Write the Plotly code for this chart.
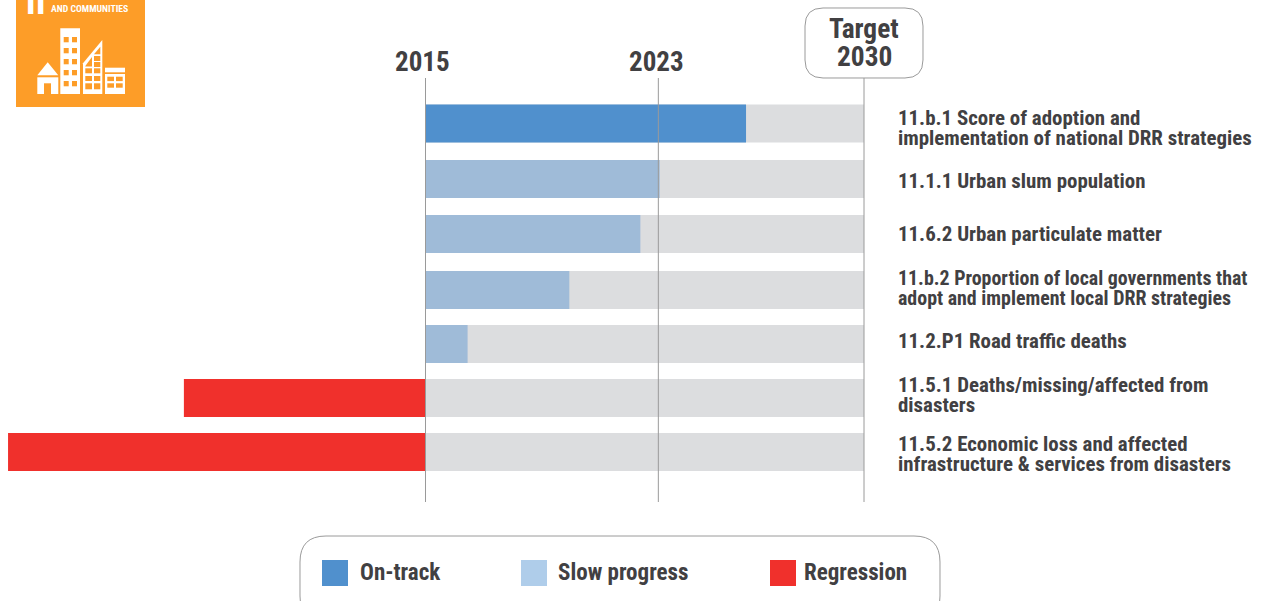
import plotly.graph_objects as go

# ---- data ----
indicators = ["11.b.1", "11.1.1", "11.6.2", "11.b.2", "11.2.P1", "11.5.1", "11.5.2"]
progress = [73.1, 53.4, 49.0, 32.8, 9.6, -55.1, -95.2]
status = ["On-track", "Slow", "Slow", "Slow", "Slow", "Regression", "Regression"]
target = [100, 100, 100, 100, 100, 100, 100]
label_lines = [
    ["11.b.1 Score of adoption and", "implementation of national DRR strategies"],
    ["11.1.1 Urban slum population"],
    ["11.6.2 Urban particulate matter"],
    ["11.b.2 Proportion of local governments that", "adopt and implement local DRR strategies"],
    ["11.2.P1 Road traffic deaths"],
    ["11.5.1 Deaths/missing/affected from", "disasters"],
    ["11.5.2 Economic loss and affected", "infrastructure & services from disasters"],
]
years = [2015, 2023, 2030]
year_progress = [0, 53.1, 100]
legend_names = ["On-track", "Slow progress", "Regression"]

# ---- style / layout ----
W, H = 1264, 601
FONT = "Roboto Condensed, Liberation Sans Narrow, Roboto"
TXT = "#414042"
LINE = "#9a9a9a"
ORANGE = "#FD9D28"
status_color = {"On-track": "#5090CD", "Slow": "#9FBBD8", "Regression": "#F0302C"}
legend_colors = ["#5090CD", "#AFCDEA", "#F0302C"]
X0, X_PER = 425.5, 4.385
ROW0, ROW_STEP, BAR_H = 123, 54.83, 38
row_nudge_px = [0.5, 1.2, 1.3, 2.5, 1.7, 0.8, 0]
label_size = [20.9, 20.9, 20.9, 19.9, 20.9, 20.9, 20.9]
bar_w = BAR_H / ROW_STEP
offsets = [-bar_w / 2 + n / ROW_STEP for n in row_nudge_px]


def px(x):
    return x / W


def py(y):
    return 1 - y / H


def rect(x0, y0, x1, y1, color, **kw):
    return dict(type="rect", xref="paper", yref="paper", x0=px(x0), x1=px(x1), y0=py(y0), y1=py(y1),
                fillcolor=color, line=dict(width=0), layer="above", **kw)


def poly(points, color):
    d = "M " + " L ".join(f"{px(a):.5f},{py(b):.5f}" for a, b in points) + " Z"
    return dict(type="path", xref="paper", yref="paper", path=d, fillcolor=color,
                line=dict(width=0), layer="above")


def round_box(x0, y0, x1, y1, r):
    pts = (f"M {px(x0+r):.5f},{py(y0):.5f} L {px(x1-r):.5f},{py(y0):.5f} "
           f"Q {px(x1):.5f},{py(y0):.5f} {px(x1):.5f},{py(y0+r):.5f} "
           f"L {px(x1):.5f},{py(y1-r):.5f} Q {px(x1):.5f},{py(y1):.5f} {px(x1-r):.5f},{py(y1):.5f} "
           f"L {px(x0+r):.5f},{py(y1):.5f} Q {px(x0):.5f},{py(y1):.5f} {px(x0):.5f},{py(y1-r):.5f} "
           f"L {px(x0):.5f},{py(y0+r):.5f} Q {px(x0):.5f},{py(y0):.5f} {px(x0+r):.5f},{py(y0):.5f} Z")
    return dict(type="path", xref="paper", yref="paper", path=pts, fillcolor="white",
                line=dict(color=LINE, width=1), layer="above")


def note(x, y, text, size, color=TXT, xanchor="left"):
    return dict(xref="paper", yref="paper", x=px(x), y=py(y), text=text, showarrow=False,
                xanchor=xanchor, yanchor="middle", xshift=0, borderpad=0,
                font=dict(family=FONT, size=size, color=color, weight=700))


fig = go.Figure()
fig.add_bar(y=indicators, x=target, orientation="h", width=bar_w, offset=offsets,
            marker=dict(color="#DCDDDF", line=dict(width=0)), showlegend=False, hoverinfo="skip")
fig.add_bar(y=indicators, x=progress, orientation="h", width=bar_w, offset=offsets,
            marker=dict(color=[status_color[s] for s in status], line=dict(width=0)), showlegend=False)

shapes = []
for v in year_progress:
    shapes.append(dict(type="line", xref="x", yref="paper", x0=v, x1=v, y0=py(78), y1=py(502),
                       line=dict(color=LINE, width=1), layer="above"))
shapes.append(round_box(805, 8, 923, 78, 18))
shapes.append(round_box(300, 536, 940, 622, 26))
for x, c in zip([322, 521, 770], legend_colors):
    shapes.append(rect(x, 560, x + 26, 586, c))

# SDG 11 icon
shapes.append(rect(16, -2, 145, 107, ORANGE))
W_ = "white"
shapes.append(poly([(37.3, 75.3), (47.7, 62.3), (58.3, 75.3)], W_))
shapes.append(rect(37.3, 77.3, 58.3, 94, W_))
shapes.append(rect(44, 83.3, 51, 94, ORANGE))
shapes.append(rect(60.3, 28.3, 80, 94, W_))
for yy in [37, 48, 59, 70, 81]:
    for xx in [63.7, 72]:
        shapes.append(rect(xx, yy, xx + 5, yy + 5.3, ORANGE))
shapes.append(poly([(83, 63.3), (102.3, 40), (102.3, 94), (83, 94)], W_))
for yy in [56, 62, 68.3, 76, 83.3]:
    shapes.append(rect(94, yy, 100.3, yy + (5 if yy < 83 else 6), ORANGE))
for yy in [68.3, 76, 83.3]:
    shapes.append(rect(85.3, yy, 92, yy + (5 if yy < 83 else 6), ORANGE))
shapes.append(poly([(94, 54.3), (100.3, 46.7), (100.3, 54.3)], ORANGE))
shapes.append(poly([(85.3, 66), (92, 57), (92, 66.6), (85.3, 66.6)], ORANGE))
shapes.append(rect(105, 67.7, 125, 72.3, W_))
shapes.append(rect(105, 74, 125, 94, W_))
for yy in [76.7, 83.3]:
    for xx in [107.3, 116]:
        shapes.append(rect(xx, yy, xx + 6.7, yy + 4.4, ORANGE))

anns = [note(29, 0.5, "1", 38, "white", "center"),
        note(39, 0.5, "1", 38, "white", "center"),
        note(50, 8.5, "AND COMMUNITIES", 9.7, "white")]
for v, yr, sh in zip(year_progress[:2], years[:2], [-3, -2]):
    anns.append(dict(xref="x", yref="paper", x=v, y=py(62), text=str(yr), showarrow=False,
                     xanchor="center", yanchor="middle", xshift=sh,
                     font=dict(family=FONT, size=27, color=TXT, weight=700)))
anns.append(note(864, 29, "Target", 27.4, TXT, "center"))
anns.append(note(864, 57, f"{years[2]}", 27.4, TXT, "center"))

row_y = [[118, 138], [181], [234], [278, 298], [341], [385, 405], [444, 464]]
for lines, ys, sz in zip(label_lines, row_y, label_size):
    for t, y_ in zip(lines, ys):
        anns.append(note(897, y_, t.replace("&", "&amp;"), sz))
for x, t in zip([358.5, 557, 803], legend_names):
    anns.append(note(x, 572, t, 23))

fig.update_layout(
    width=W, height=H, margin=dict(l=0, r=0, t=0, b=0), autosize=False,
    paper_bgcolor="white", plot_bgcolor="white", barmode="overlay", showlegend=False,
    xaxis=dict(range=[-X0 / X_PER, (W - X0) / X_PER], visible=False, fixedrange=True),
    yaxis=dict(type="category", categoryorder="array", categoryarray=indicators,
               range=[(H - ROW0) / ROW_STEP, -ROW0 / ROW_STEP], visible=False, fixedrange=True),
    shapes=shapes, annotations=anns,
    font=dict(family=FONT, color=TXT),
)
fig.write_html("out.html", config=dict(displayModeBar=False),
               post_script="document.body.style.margin='0';document.body.style.overflow='hidden';")
